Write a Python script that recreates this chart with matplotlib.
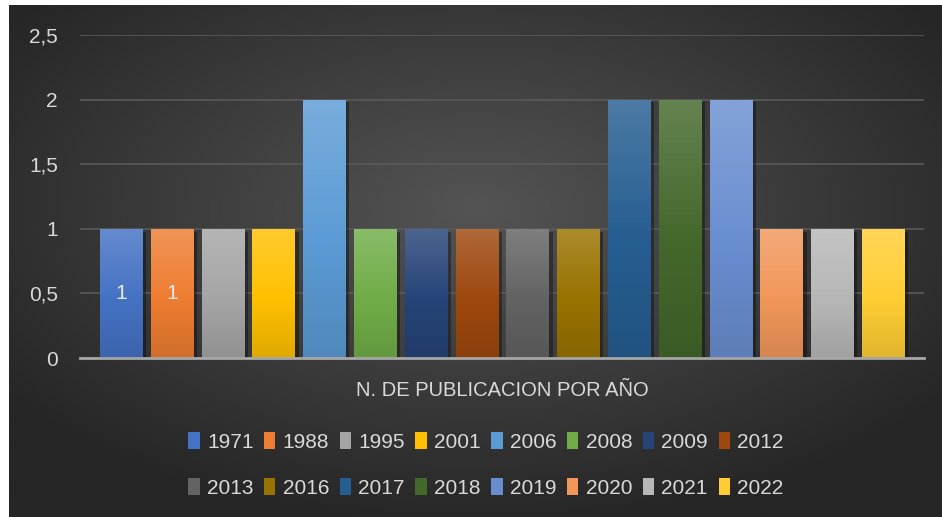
import numpy as np
import matplotlib.pyplot as plt
from matplotlib.colors import to_rgb
from matplotlib.patheffects import SimplePatchShadow, Normal

# datos
years = ['1971', '1988', '1995', '2001', '2006', '2008', '2009', '2012',
         '2013', '2016', '2017', '2018', '2019', '2020', '2021', '2022']
counts = [1, 1, 1, 1, 2, 1, 1, 1, 1, 1, 2, 2, 2, 1, 1, 1]
colors = ['#4472C4', '#ED7D31', '#A5A5A5', '#FFC000', '#5B9BD5', '#70AD47',
          '#264478', '#9E480E', '#636363', '#997300', '#255E91', '#43682B',
          '#698ED0', '#F1975A', '#B7B7B7', '#FFCD33']
labeled = [0, 1]
title = 'N. DE PUBLICACION POR AÑO'
yticks = [0, 0.5, 1, 1.5, 2, 2.5]

plt.rcParams['font.family'] = ['Liberation Sans', 'DejaVu Sans']
txt = '#d9d9d9'

W, H = 942, 517
fig = plt.figure(figsize=(W / 100, H / 100), dpi=100)
fig.patch.set_facecolor('white')

# fondo con degradado radial
bg = fig.add_axes([9 / W, 0, 1 - 9 / W, 1 - 5 / H])
bg.set_axis_off()
yy, xx = np.mgrid[-1:1:300j, -1:1:500j]
r = np.clip(np.sqrt(xx ** 2 + (yy + 0.2) ** 2) / 1.25, 0, 1)
c0, c1 = np.array(to_rgb('#545454')), np.array(to_rgb('#262626'))
img = c0[None, None, :] * (1 - r[..., None]) + c1[None, None, :] * r[..., None]
bg.imshow(img, aspect='auto', extent=[0, 1, 0, 1])

# area del grafico
x0, x1 = 80, 924
y0, y1 = 358, 35
ax = fig.add_axes([x0 / W, 1 - y0 / H, (x1 - x0) / W, (y0 - y1) / H])
ax.patch.set_alpha(0)
x = np.arange(len(years))
bw = 0.827
ax.set_xlim(-0.807, len(years) - 1 + 0.807)
ax.set_ylim(0, 2.5)

bars = ax.bar(x, counts, width=bw, color=colors, label=years, zorder=3)
grad = np.linspace(1, 0, 100)[:, None]
for b, c in zip(bars, colors):
    b.set_path_effects([SimplePatchShadow(offset=(3, -2), shadow_rgbFace='black', alpha=0.35), Normal()])
    base = np.array(to_rgb(c))
    light = base + (1 - base) * 0.18
    dark = base * 0.88
    t = grad
    col = np.where(t > 0.45,
                   light * ((t - 0.45) / 0.55) + base * (1 - (t - 0.45) / 0.55),
                   base * (t / 0.45) + dark * (1 - t / 0.45))
    col = np.clip(col, 0, 1).reshape(100, 1, 3)
    xb, yb = b.get_x(), b.get_height()
    im = ax.imshow(col, aspect='auto', extent=[xb, xb + b.get_width(), 0, yb], zorder=4)
    im.set_clip_path(b)

for i in labeled:
    ax.text(x[i], counts[i] / 2, str(counts[i]), ha='center', va='center',
            color='#e8e8e8', fontsize=15, zorder=5)

ax.set_yticks(yticks)
ax.set_yticklabels([('%g' % v).replace('.', ',') for v in yticks])
ax.set_xticks([])
ax.tick_params(axis='y', length=0, pad=16, labelsize=15, labelcolor=txt)
ax.grid(axis='y', color='#5a5a5a', linewidth=1.2, zorder=0)
for s in ['top', 'right', 'left']:
    ax.spines[s].set_visible(False)
ax.spines['bottom'].set_color('#a6a6a6')
ax.spines['bottom'].set_linewidth(2)
ax.spines['bottom'].set_zorder(6)

fig.text(502 / W, 1 - 390 / H, title, ha='center', va='center', color=txt, fontsize=14.5)

# leyenda en filas (matplotlib llena por columnas)
ncol = 8
order = [r * ncol + c for c in range(ncol) for r in range(2)]
leg = ax.legend(handles=[bars[i] for i in order], labels=[years[i] for i in order],
                ncol=ncol, loc='center',
                bbox_to_anchor=(486 / W, 1 - 465 / H), bbox_transform=fig.transFigure,
                frameon=False, fontsize=15, labelcolor=txt, handlelength=0.55,
                handleheight=0.9, handletextpad=0.35, columnspacing=0.5,
                labelspacing=1.25, borderpad=0)
for h in leg.legend_handles:
    h.set_path_effects([])

fig.savefig('out.png', dpi=100)
